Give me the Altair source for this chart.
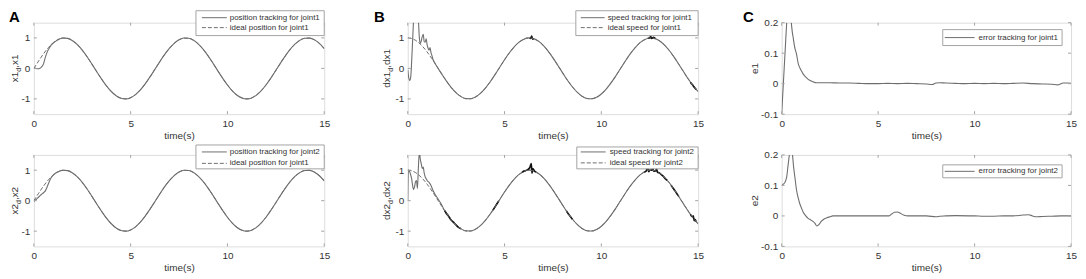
import altair as alt
import pandas as pd

# ---------------- data ----------------
T_GRID = [0.0, 0.25, 0.5, 0.75, 1.0, 1.25, 1.5, 1.75, 2.0, 2.25, 2.5, 2.75, 3.0, 3.25, 3.5, 3.75,
          4.0, 4.25, 4.5, 4.75, 5.0, 5.25, 5.5, 5.75, 6.0, 6.25, 6.5, 6.75, 7.0, 7.25, 7.5, 7.75,
          8.0, 8.25, 8.5, 8.75, 9.0, 9.25, 9.5, 9.75, 10.0, 10.25, 10.5, 10.75, 11.0, 11.25, 11.5,
          11.75, 12.0, 12.25, 12.5, 12.75, 13.0, 13.25, 13.5, 13.75, 14.0, 14.25, 14.5, 14.75, 15.0]

# ideal position (joint1 / joint2)
POS_IDEAL = [0.000, 0.247, 0.479, 0.682, 0.841, 0.949, 0.997, 0.984, 0.909, 0.778, 0.598, 0.382,
             0.141, -0.108, -0.351, -0.572, -0.757, -0.895, -0.977, -0.999, -0.959, -0.859, -0.706,
             -0.508, -0.279, -0.033, 0.215, 0.450, 0.657, 0.823, 0.938, 0.995, 0.989, 0.922, 0.798,
             0.625, 0.412, 0.174, -0.075, -0.319, -0.544, -0.735, -0.880, -0.970, -1.000, -0.968,
             -0.875, -0.729, -0.537, -0.311, -0.066, 0.183, 0.420, 0.632, 0.804, 0.926, 0.991, 0.994,
             0.935, 0.818, 0.650]

# ideal speed (joint1 / joint2)
SPD_IDEAL = [1.000, 0.969, 0.878, 0.732, 0.540, 0.315, 0.071, -0.178, -0.416, -0.628, -0.801, -0.924,
             -0.990, -0.994, -0.936, -0.820, -0.654, -0.446, -0.211, 0.038, 0.284, 0.512, 0.709,
             0.861, 0.960, 1.000, 0.977, 0.893, 0.754, 0.568, 0.347, 0.102, -0.146, -0.388, -0.602,
             -0.780, -0.911, -0.985, -0.997, -0.948, -0.839, -0.678, -0.476, -0.245, 0.004, 0.253,
             0.483, 0.683, 0.844, 0.950, 0.998, 0.983, 0.907, 0.775, 0.595, 0.378, 0.137, -0.112,
             -0.355, -0.575, -0.760]

# transients of the tracked signals (before they join the ideal curves)
X_EARLY_T = [0.0, 0.1, 0.2, 0.3, 0.4, 0.5, 0.6, 0.7, 0.8, 0.9, 1.0, 1.1, 1.2, 1.3, 1.4]
X1_EARLY = [0.02, 0.00, -0.01, 0.00, 0.05, 0.15, 0.38, 0.55, 0.67, 0.77, 0.83, 0.88, 0.92, 0.955, 0.98]
X2_EARLY = [-0.03, 0.03, 0.09, 0.15, 0.21, 0.26, 0.33, 0.47, 0.63, 0.76, 0.84, 0.89, 0.93, 0.96, 0.985]

DX1_EARLY_T = [0.0, 0.05, 0.1, 0.15, 0.2, 0.25, 0.3, 0.35, 0.4, 0.5, 0.55, 0.6, 0.65, 0.7, 0.75, 0.8,
               0.85, 0.9, 0.95, 1.0, 1.05, 1.1, 1.15, 1.2, 1.25, 1.3, 1.4]
DX1_EARLY = [-0.05, -0.3, -0.4, -0.3, 0.2, 0.9, 1.6, 2.2, 2.5, 2.2, 1.6, 1.0, 0.82, 0.9, 1.05, 1.12,
             0.87, 0.86, 0.97, 0.78, 0.66, 0.6, 0.68, 0.52, 0.42, 0.3, 0.18]

DX2_EARLY_T = [0.0, 0.03, 0.1, 0.15, 0.2, 0.25, 0.3, 0.35, 0.4, 0.45, 0.5, 0.55, 0.6, 0.65, 0.7, 0.75,
               0.8, 0.85, 0.9, 0.95, 1.0, 1.1, 1.2, 1.3, 1.4, 1.5, 1.6, 1.7, 1.8, 1.9, 2.0, 2.1, 2.2, 2.3]
DX2_EARLY = [0.0, 1.0, 0.95, 0.85, 0.72, 0.5, 0.36, 0.45, 0.62, 0.66, 0.4, 1.1, 1.6, 1.35, 1.2, 1.05,
             1.1, 0.9, 0.78, 0.72, 0.66, 0.6, 0.5, 0.34, 0.22, 0.12, 0.02, -0.08, -0.2, -0.33, -0.40,
             -0.5, -0.6, -0.67]

# chattering (dark) stretches of the speed curves
DX1_CHAT_SEG = [1, 1, 1, 1, 1, 2, 2, 2, 2, 2, 2, 3, 3, 3, 3]
DX1_CHAT_T = [6.3, 6.35, 6.4, 6.45, 6.5, 12.4, 12.5, 12.55, 12.6, 12.7, 12.8, 14.6, 14.7, 14.8, 14.9]
DX1_CHAT_V = [1.0, 0.98, 1.06, 0.96, 0.99, 0.99, 1.0, 1.05, 0.98, 1.02, 0.97, -0.45, -0.53, -0.62, -0.69]

DX2_CHAT_SEG = [1] * 7 + [2] * 4 + [3] * 9 + [4] * 4 + [5] * 16 + [6] * 5 + [7] * 6
DX2_CHAT_T = [1.9, 2.0, 2.1, 2.2, 2.4, 2.6, 2.75,
              4.4, 4.5, 4.6, 4.7,
              5.9, 6.0, 6.15, 6.3, 6.38, 6.42, 6.46, 6.55, 6.62,
              8.2, 8.3, 8.4, 8.5,
              12.2, 12.3, 12.4, 12.45, 12.5, 12.6, 12.65, 12.7, 12.8, 12.85, 12.9, 13.0, 13.1, 13.2, 13.3, 13.4,
              13.6, 13.7, 13.8, 13.9, 14.0,
              14.6, 14.7, 14.75, 14.8, 14.85, 14.9]
DX2_CHAT_V = [-0.32, -0.43, -0.50, -0.60, -0.73, -0.87, -0.92,
              -0.31, -0.21, -0.11, -0.01,
              0.93, 0.97, 1.0, 1.08, 1.22, 0.9, 1.05, 0.97, 0.94,
              -0.34, -0.44, -0.52, -0.61,
              0.94, 0.96, 1.1, 0.95, 1.0, 1.0, 1.12, 0.97, 0.97, 1.05, 0.93, 0.91, 0.85, 0.8, 0.72, 0.67,
              0.51, 0.41, 0.33, 0.23, 0.14,
              -0.45, -0.53, -0.50, -0.66, -0.62, -0.69]

E1_T = [0.0, 0.1, 0.2, 0.26, 0.35, 0.45, 0.5, 0.55, 0.6, 0.68, 0.77, 0.86, 0.94, 1.02, 1.11, 1.28, 1.45,
        1.6, 1.8, 2.0, 2.5, 3.0, 3.5, 4.0, 4.5, 5.0, 5.5, 6.0, 6.5, 7.0, 7.5, 7.8, 8.0, 8.2, 8.5, 9.0,
        9.5, 10.0, 10.5, 11.0, 11.5, 12.0, 12.5, 13.0, 13.5, 14.0, 14.3, 14.6, 14.8, 15.0]
E1_V = [-0.1, 0.015, 0.13, 0.2, 0.26, 0.24, 0.2, 0.17, 0.15, 0.118, 0.097, 0.066, 0.052, 0.042, 0.032,
        0.02, 0.011, 0.007, 0.003, 0.003, 0.003, 0.002, 0.002, 0.001, 0.0, 0.0, 0.001, 0.0, 0.001, 0.0,
        -0.001, -0.003, 0.002, 0.003, 0.002, 0.001, 0.0, 0.001, 0.0, 0.001, 0.0, 0.001, 0.002, 0.0,
        -0.001, -0.002, -0.004, 0.002, 0.002, 0.001]

E2_T = [0.0, 0.1, 0.17, 0.26, 0.34, 0.4, 0.47, 0.56, 0.62, 0.68, 0.77, 0.86, 0.94, 1.02, 1.11, 1.25, 1.37,
        1.5, 1.62, 1.72, 1.83, 1.95, 2.05, 2.2, 2.35, 2.5, 2.65, 3.0, 3.5, 4.0, 4.5, 5.0, 5.55, 5.7,
        5.85, 6.0, 6.15, 6.35, 6.55, 7.0, 7.5, 8.0, 8.2, 8.5, 9.0, 10.0, 10.5, 11.0, 11.5, 12.0, 12.5,
        12.8, 13.0, 13.2, 13.5, 14.0, 14.5, 15.0]
E2_V = [0.1, 0.105, 0.11, 0.128, 0.17, 0.2, 0.22, 0.2, 0.16, 0.13, 0.085, 0.058, 0.04, 0.027, 0.013,
        0.0, -0.008, -0.013, -0.018, -0.024, -0.033, -0.027, -0.018, -0.01, -0.006, -0.003, 0.0, 0.0,
        0.0, 0.0, 0.0, 0.0, 0.0, 0.006, 0.012, 0.013, 0.009, 0.002, 0.0, 0.0, 0.0, -0.003, -0.001,
        0.0, 0.001, 0.0, -0.001, -0.001, 0.0, 0.0, 0.003, 0.004, 0.0, -0.003, -0.002, -0.001, 0.0, 0.0]

X_TICKS = [0, 5, 10, 15]
POS_TICKS = [-1, 0, 1]
ERR_TICKS = [-0.1, 0, 0.1, 0.2]

# ---------------- styling ----------------
FONT = "Liberation Sans"
TXT = "#333333"
FRAME = "#a3a3a3"
LINE = "#6e6e6e"
H = 92
CW = {'x': 0.5, '1': 0.556, '2': 0.556, 'd': 0.556, ',': 0.278, 'e': 0.556}


def tw(s, fs):
    return sum(CW.get(c, 0.556) for c in s) * fs


def one_row(**kw):
    return pd.DataFrame({k: [v] for k, v in kw.items()} or {"k": [0]})


def make_panel(w, ydom, yticks, solid, dashed, chat, ytitle, title_x, legend, letter):
    xenc = alt.X("t:Q", scale=alt.Scale(domain=[0, 15], nice=False, zero=False),
                 axis=alt.Axis(values=X_TICKS, ticks=False, tickSize=0, domain=False, grid=False,
                               labelFont=FONT, labelFontSize=10, labelColor=TXT, labelPadding=4,
                               labelFlush=False, labelOverlap=False,
                               title="time(s)", titleFont=FONT, titleFontSize=10,
                               titleFontWeight="normal", titleColor=TXT, titlePadding=2))
    yenc = alt.Y("v:Q", scale=alt.Scale(domain=ydom, nice=False, zero=False),
                 axis=alt.Axis(values=yticks, ticks=False, tickSize=0, domain=False, grid=False,
                               labelFont=FONT, labelFontSize=10, labelColor=TXT, labelPadding=4,
                               labelFlush=False, labelOverlap=False,
                               labelExpr="'' + datum.value", title=""))
    layers = []
    # curves
    layers.append(alt.Chart(pd.DataFrame({"t": solid[0], "v": solid[1]})).mark_line(
        color=LINE, strokeWidth=1.1, clip=True, interpolate="monotone").encode(x=xenc, y=yenc))
    if chat is not None:
        layers.append(alt.Chart(pd.DataFrame({"t": chat[0], "v": chat[1], "seg": chat[2]})).mark_line(
            color="#111111", strokeWidth=1.6, clip=True, interpolate="monotone").encode(
            x=xenc, y=yenc, detail="seg:N"))
    if dashed is not None:
        layers.append(alt.Chart(pd.DataFrame({"t": dashed[0], "v": dashed[1]})).mark_line(
            color=LINE, strokeWidth=1, strokeDash=[4, 2], clip=True, interpolate="monotone").encode(
            x=xenc, y=yenc))
    # inside ticks on all four sides
    xdf = pd.DataFrame({"t": X_TICKS})
    ydf = pd.DataFrame({"v": yticks})
    layers.append(alt.Chart(xdf).mark_rule(color=FRAME).encode(x=xenc, y=alt.value(H), y2=alt.value(H - 3)))
    layers.append(alt.Chart(xdf).mark_rule(color=FRAME).encode(x=xenc, y=alt.value(0), y2=alt.value(3)))
    layers.append(alt.Chart(ydf).mark_rule(color=FRAME).encode(y=yenc, x=alt.value(0), x2=alt.value(3)))
    layers.append(alt.Chart(ydf).mark_rule(color=FRAME).encode(y=yenc, x=alt.value(w), x2=alt.value(w - 3)))
    # legend box
    (bx0, bx1, by0, by1), entries = legend
    layers.append(alt.Chart(one_row(k=0)).mark_rect(fill="white", stroke=FRAME, strokeWidth=1).encode(
        x=alt.value(bx0), x2=alt.value(bx1), y=alt.value(by0), y2=alt.value(by1)))
    for label, is_dashed, ly, lx0, lx1, tx in entries:
        kw = dict(color=LINE, strokeWidth=1)
        if is_dashed:
            kw["strokeDash"] = [4, 2]
        layers.append(alt.Chart(one_row(k=0)).mark_rule(**kw).encode(
            x=alt.value(lx0), x2=alt.value(lx1), y=alt.value(ly)))
        layers.append(alt.Chart(one_row(label=label)).mark_text(
            align="left", baseline="middle", font=FONT, fontSize=8, color=TXT).encode(
            x=alt.value(tx), y=alt.value(ly), text="label:N"))
    # y title (with subscript d)
    fs, sfs = 10, 7
    if len(ytitle) == 3:
        m1, sub, m2 = ytitle
        w1, ws, w2 = tw(m1, fs), tw(sub, sfs), tw(m2, fs)
        yb = H / 2 + (w1 + ws + w2) / 2
        parts = [(m1, fs, title_x, yb), (sub, sfs, title_x + 3, yb - w1), (m2, fs, title_x, yb - w1 - ws)]
    else:
        parts = [(ytitle[0], fs, title_x, H / 2 + tw(ytitle[0], fs) / 2)]
    for s, f, px, py in parts:
        layers.append(alt.Chart(one_row(label=s)).mark_text(
            align="left", baseline="alphabetic", angle=270, font=FONT, fontSize=f, color=TXT).encode(
            x=alt.value(px), y=alt.value(py), text="label:N"))
    if letter is not None:
        ltxt, lx = letter
        layers.append(alt.Chart(one_row(label=ltxt)).mark_text(
            align="left", baseline="alphabetic", font=FONT, fontSize=15, fontWeight="bold",
            color="#000000").encode(x=alt.value(lx), y=alt.value(-1), text="label:N"))
    return alt.layer(*layers).properties(width=w, height=H)


x1_t = X_EARLY_T + T_GRID[6:]
x1_v = X1_EARLY + POS_IDEAL[6:]
x2_v = X2_EARLY + POS_IDEAL[6:]
dx1_t = DX1_EARLY_T + T_GRID[6:]
dx1_v = DX1_EARLY + SPD_IDEAL[6:]
dx2_t = DX2_EARLY_T + T_GRID[10:]
dx2_v = DX2_EARLY + SPD_IDEAL[10:]

pA1 = make_panel(292, [-1.5, 1.5], POS_TICKS, (x1_t, x1_v), (T_GRID, POS_IDEAL), None,
                 ("x1", "d", ",x1"), -16,
                 ((163, 292, -12, 13), [("position tracking for joint1", False, -5, 169, 194, 197),
                                        ("ideal position for joint1", True, 5, 169, 194, 197)]),
                 ("A", -25))
pB1 = make_panel(292, [-1.5, 1.5], POS_TICKS, (dx1_t, dx1_v), (T_GRID, SPD_IDEAL),
                 (DX1_CHAT_T, DX1_CHAT_V, DX1_CHAT_SEG),
                 ("dx1", "d", ",dx1"), -18,
                 ((169, 292, -12, 13), [("speed tracking for joint1", False, -5, 174, 198, 201),
                                        ("ideal speed for joint1", True, 5, 174, 198, 201)]),
                 ("B", -34))
pC1 = make_panel(291, [-0.1, 0.2], ERR_TICKS, (E1_T, E1_V), None, None,
                 ("e1",), -24,
                 ((162, 282, 7, 23), [("error tracking for joint1", False, 15, 164, 194, 198)]),
                 ("C", -39))
pA2 = make_panel(292, [-1.5, 1.5], POS_TICKS, (x1_t, x2_v), (T_GRID, POS_IDEAL), None,
                 ("x2", "d", ",x2"), -16,
                 ((163, 292, -10, 14), [("position tracking for joint2", False, -3, 169, 194, 197),
                                        ("ideal position for joint1", True, 8.5, 169, 194, 197)]),
                 None)
pB2 = make_panel(292, [-1.5, 1.5], POS_TICKS, (dx2_t, dx2_v), (T_GRID, SPD_IDEAL),
                 (DX2_CHAT_T, DX2_CHAT_V, DX2_CHAT_SEG),
                 ("dx2", "d", ",dx2"), -18,
                 ((170, 292, -8, 14), [("speed tracking for joint2", False, -3, 174, 199, 203),
                                       ("ideal speed for joint2", True, 8, 174, 199, 203)]),
                 None)
pC2 = make_panel(291, [-0.1, 0.2], ERR_TICKS, (E2_T, E2_V), None, None,
                 ("e2",), -24,
                 ((162, 282, 10, 23), [("error tracking for joint2", False, 16.5, 164, 194, 198)]),
                 None)

chart = alt.concat(pA1, pB1, pC1, pA2, pB2, pC2, columns=3,
                   spacing={"row": 41, "column": 84}, bounds="flush").properties(
    padding=0, background="white"
).configure_view(stroke=FRAME, strokeWidth=1).configure(font=FONT)

chart.save("out.html", embed_options={"renderer": "svg", "actions": False})
